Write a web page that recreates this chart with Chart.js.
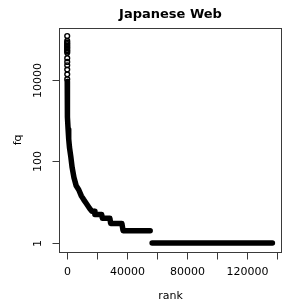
<!DOCTYPE html>
<html>
<head>
<meta charset="utf-8">
<script src="https://cdn.jsdelivr.net/npm/chart.js@4"></script>
<style>
  html, body { margin: 0; padding: 0; background: #fff; overflow: hidden; }
  #wrap { position: relative; width: 286px; height: 303px; }
</style>
</head>
<body>
<div id="wrap"><canvas id="chart"></canvas></div>
<script>
// ─── Data ─────────────────────────────────────────────────────────────────────
// top ranks, drawn as single open circles
const headRanks = [1, 2, 3, 4, 5, 6, 7, 8, 9, 10, 11, 12, 13, 14, 15, 16];
const headFq    = [116000, 88000, 80000, 74000, 68000, 63000, 58000, 53000,
                   49000, 45000, 33300, 27000, 22400, 17500, 13400, 10200];

// the dense tail, where the circles merge into a thick band (null = gap)
const tailRanks = [17, 40, 100, 300, 600, 1000, 1500, 2400, 3300, 4500, 6000,
                   7700, 9500, 11000, 13000, 15000, 16500, 18000, 18500, 23000,
                   23500, 28500, 29000, 36500, 37300, 55400, 56000, 56700, 137000];
const tailFq    = [9000, 5000, 3000, 1200, 600, 350, 220, 130, 70, 40, 25,
                   20, 14, 11.5, 9, 7, 6, 6, 5, 5,
                   4, 4, 3, 3, 2, 2, null, 1, 1];

const xTicks      = [0, 20000, 40000, 60000, 80000, 100000, 120000, 140000];
const xTickLabels = ['0', '', '40000', '', '80000', '', '120000', ''];
const yTicks      = [1, 100, 10000];
const yTickLabels = ['1', '100', '10000'];

const FONT = '"DejaVu Sans", sans-serif';
const AXIS = '#3a3a3a';

// ─── Frame, ticks and text (R style) ──────────────────────────────────────────
const rFrame = {
  id: 'rFrame',
  afterDraw(chart) {
    const { ctx, chartArea: a, scales: { x, y } } = chart;
    ctx.save();
    ctx.strokeStyle = AXIS;
    ctx.lineWidth = 1;
    ctx.strokeRect(Math.round(a.left) + 0.5, Math.round(a.top) + 0.5,
                   Math.round(a.right - a.left), Math.round(a.bottom - a.top));

    ctx.fillStyle = '#000';
    ctx.font = `11px ${FONT}`;
    ctx.textAlign = 'center';
    ctx.textBaseline = 'middle';

    // x axis
    const bx = Math.round(a.bottom) + 0.5;
    xTicks.forEach((v, i) => {
      const px = Math.round(x.getPixelForValue(v)) + 0.5;
      ctx.beginPath();
      ctx.moveTo(px, bx);
      ctx.lineTo(px, bx + 7);
      ctx.stroke();
      if (xTickLabels[i]) ctx.fillText(xTickLabels[i], px, 272);
    });

    // y axis
    const lx = Math.round(a.left) + 0.5;
    yTicks.forEach((v, i) => {
      const py = Math.round(y.getPixelForValue(v)) + 0.5;
      ctx.beginPath();
      ctx.moveTo(lx, py);
      ctx.lineTo(lx - 7, py);
      ctx.stroke();
      ctx.save();
      ctx.translate(38, py);
      ctx.rotate(-Math.PI / 2);
      ctx.fillText(yTickLabels[i], 0, 0);
      ctx.restore();
    });

    // axis titles
    ctx.fillText('rank', 170.5, 296.5);
    ctx.save();
    ctx.translate(18, (a.top + a.bottom) / 2);
    ctx.rotate(-Math.PI / 2);
    ctx.fillText('fq', 0, 0);
    ctx.restore();

    // main title
    ctx.font = `bold 13px ${FONT}`;
    ctx.fillText('Japanese Web', 170.5, 14.5);
    ctx.restore();
  }
};

// ─── Chart ────────────────────────────────────────────────────────────────────
new Chart(document.getElementById('chart'), {
  type: 'scatter',
  data: {
    datasets: [
      {
        label: 'tail',
        data: tailRanks.map((r, i) => ({ x: r, y: tailFq[i] })),
        showLine: true,
        spanGaps: false,
        borderColor: '#000',
        borderWidth: 5.5,
        borderCapStyle: 'round',
        borderJoinStyle: 'round',
        pointRadius: 0,
        tension: 0,
      },
      {
        label: 'head',
        data: headRanks.map((r, i) => ({ x: r, y: headFq[i] })),
        showLine: false,
        pointStyle: 'circle',
        pointRadius: 2.4,
        pointBorderWidth: 1.4,
        pointBorderColor: '#000',
        pointBackgroundColor: 'rgba(0,0,0,0)',
      },
    ]
  },
  options: {
    responsive: true, maintainAspectRatio: false,
    animation: false,
    devicePixelRatio: 1,
    layout: { padding: { left: 59, right: 2, top: 27.8, bottom: 51 } },
    plugins: { legend: { display: false }, tooltip: { enabled: false } },
    scales: {
      x: { type: 'linear', min: -5480, max: 142480, display: false },
      y: { type: 'logarithmic', min: 0.627, max: 184900, display: false },
    }
  },
  plugins: [rFrame]
});
</script>
</body>
</html>
